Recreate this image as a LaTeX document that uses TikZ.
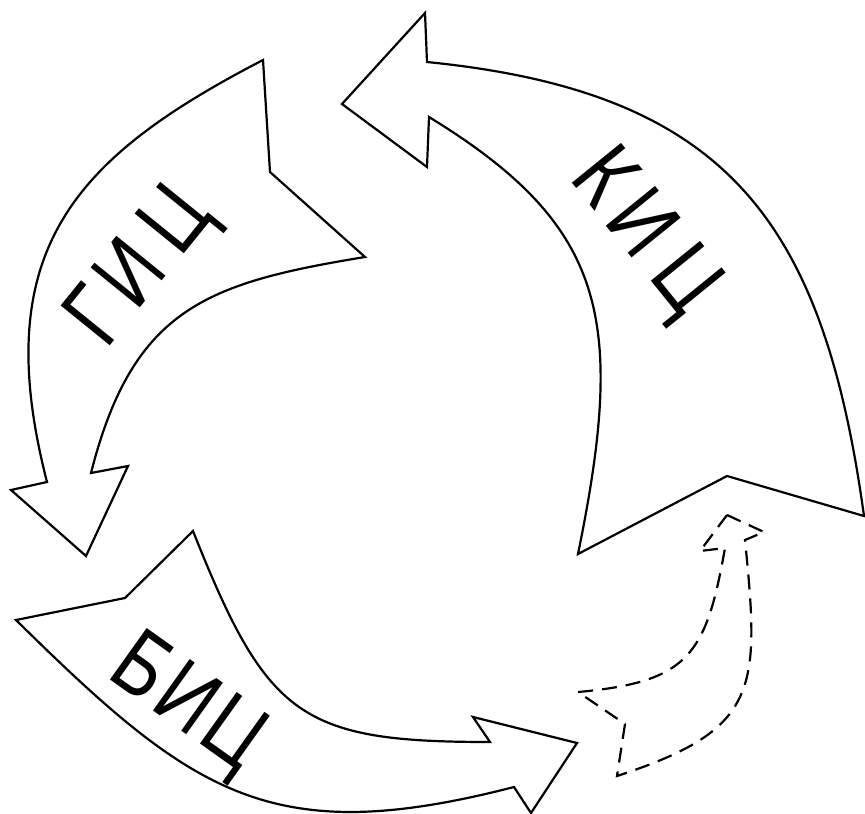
\documentclass[tikz,border=0pt]{standalone}
\usepackage{fontspec}
\newfontfamily\lblfont{Liberation Sans}[FakeStretch=0.8]
\tikzset{
  outline/.style={line width=2.2pt},
  dashline/.style={line width=2.2pt,dash pattern=on 15pt off 9pt},
  word/.style={font=\lblfont\fontsize{92}{92}\selectfont,inner sep=0pt,
    text height=66pt,text depth=0pt,anchor=center}
}
\begin{document}
\begin{tikzpicture}[x=1pt,y=-1pt]
\useasboundingbox (0,0) rectangle (865,814);
\draw[outline] (263,60) -- (270,172) -- (365,257)
  .. controls (207,283) and (133,308) .. (91,473)
  -- (128,466) -- (86,556) -- (11,490) -- (47,482)
  .. controls (-13,249) and (76,157) .. cycle;
\draw[outline] (342,104) -- (425,13) -- (427,62)
  .. controls (726,92) and (823,219) .. (864,516)
  -- (727,476) -- (578,554)
  .. controls (626,319) and (607,226) .. (429,117)
  -- (427,167) -- cycle;
\draw[outline] (193,531) -- (125,598) -- (16,620)
  .. controls (193.5,795) and (271.5,849.5) .. (514,787)
  -- (531,813) -- (577,743) -- (473,717) -- (490,742)
  .. controls (300,742) and (267,717) .. cycle;
\draw[dashline] (727,515) -- (764,532) -- (745,540)
  .. controls (760,690) and (759.5,729.5) .. (617,776)
  -- (625,724) -- (578,692)
  .. controls (688,682) and (706,656) .. (725,548)
  -- (700,551) -- cycle;
\node[word,rotate=51] (gic) at (135,262.5) {Г\kern9ptИ\kern17ptЦ};
\node[word,rotate=-51] (kic) at (651,228) {К\kern11.5ptИ\kern18.5ptЦ};
\node[word,rotate=-35.5] (bic) at (191.5,697.5) {Б\kern5ptИ\kern4.5ptЦ};
\end{tikzpicture}
\end{document}
